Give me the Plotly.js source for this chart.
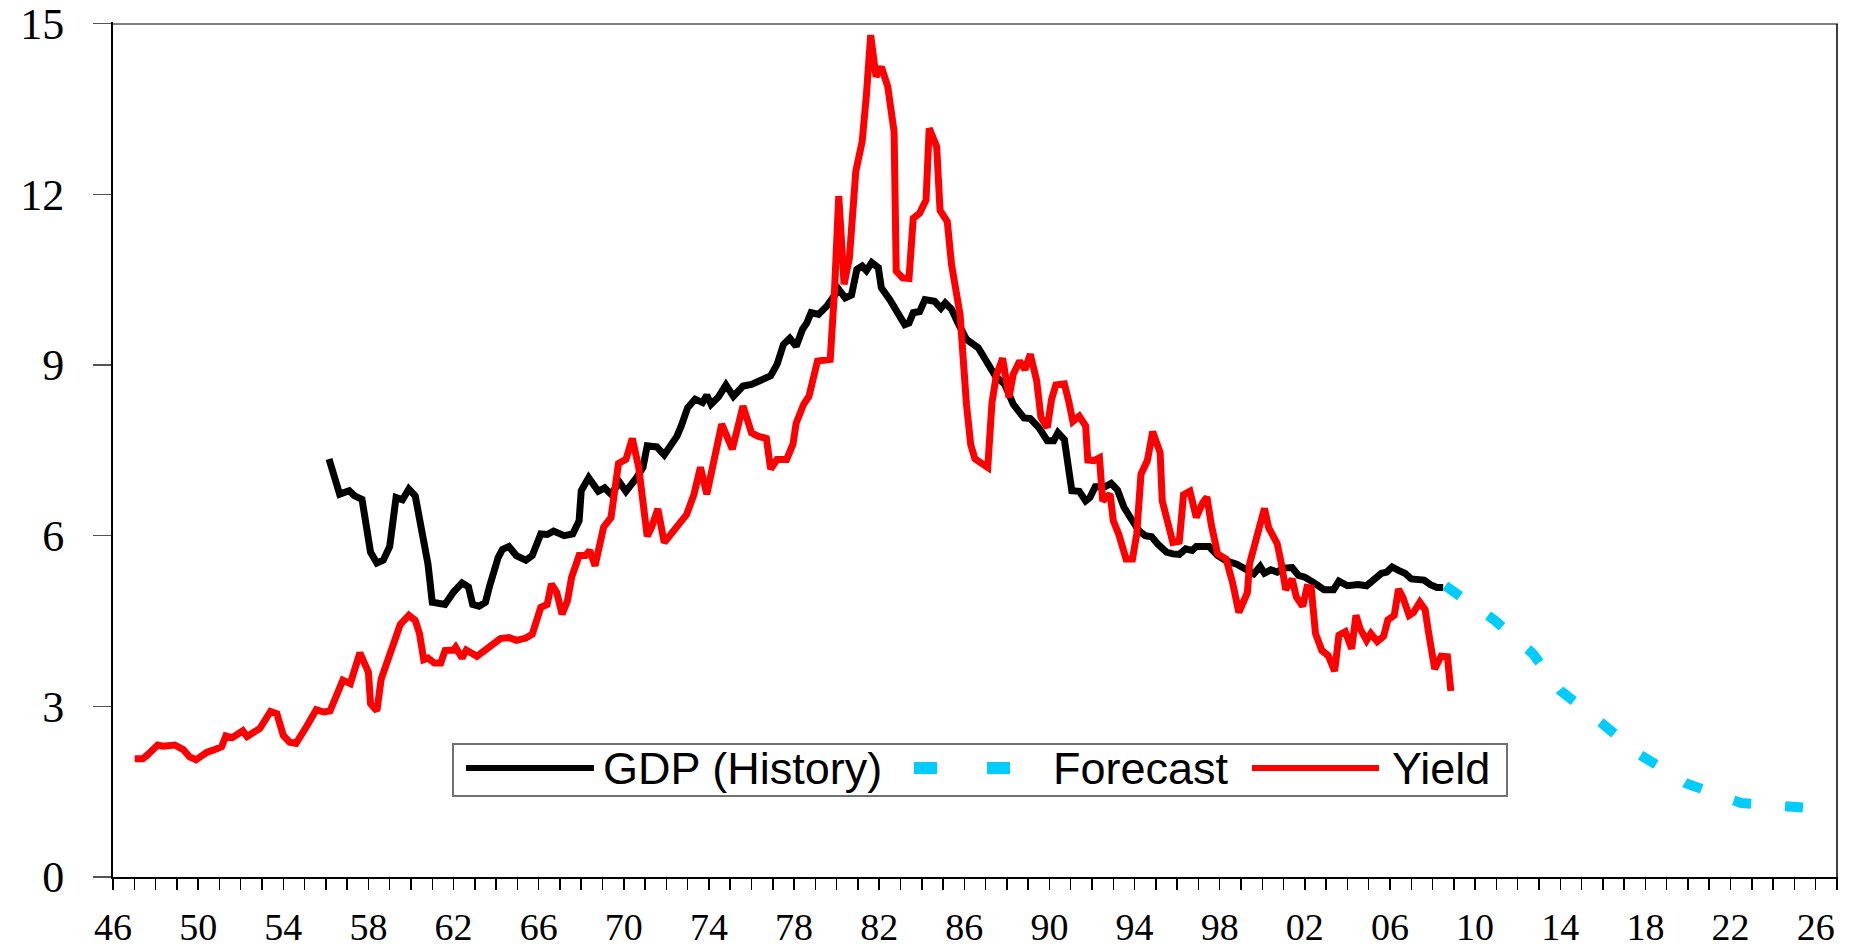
<!DOCTYPE html>
<html>
<head>
<meta charset="utf-8">
<script src="https://cdn.plot.ly/plotly-3.0.1.min.js"></script>
<style>
  html, body { margin: 0; padding: 0; background: #fff; }
  #chart { width: 1864px; height: 947px; }
</style>
</head>
<body>
<div id="chart"></div>
<script>
// values (decimal years)

var gdp_years = [1956.15, 1956.4, 1956.65, 1957.1, 1957.35, 1957.7, 1957.9, 1958.1, 1958.4, 1958.7,
  1959.0, 1959.3, 1959.6, 1959.9, 1960.2, 1960.4, 1960.8, 1961.0, 1961.6, 1962.0,
  1962.4, 1962.7, 1962.9, 1963.2, 1963.5, 1963.7, 1964.1, 1964.3, 1964.6, 1964.95,
  1965.4, 1965.7, 1966.1, 1966.4, 1966.7, 1967.2, 1967.6, 1967.9, 1968.0, 1968.35,
  1968.8, 1969.1, 1969.4, 1969.8, 1970.1, 1970.6, 1970.9, 1971.1, 1971.55, 1971.9,
  1972.3, 1972.5, 1972.7, 1973.0, 1973.35, 1973.7, 1973.9, 1974.1, 1974.45, 1974.8,
  1975.15, 1975.6, 1976.0, 1976.5, 1976.9, 1977.2, 1977.5, 1977.8, 1978.1, 1978.4,
  1978.6, 1978.8, 1979.15, 1979.55, 1979.85, 1980.1, 1980.4, 1980.7, 1980.95, 1981.2,
  1981.4, 1981.65, 1981.96, 1982.1, 1982.5, 1982.8, 1983.2, 1983.4, 1983.6, 1983.9,
  1984.15, 1984.6, 1984.9, 1985.1, 1985.4, 1985.7, 1986.1, 1986.66, 1987.1, 1987.45,
  1987.9, 1988.3, 1988.8, 1989.1, 1989.5, 1989.9, 1990.2, 1990.4, 1990.7, 1990.85,
  1991.05, 1991.4, 1991.7, 1991.9, 1992.15, 1992.6, 1992.9, 1993.2, 1993.5, 1993.8,
  1994.2, 1994.5, 1994.8, 1995.1, 1995.5, 1995.8, 1996.1, 1996.4, 1996.7, 1996.9,
  1997.5, 1997.9, 1998.3, 1998.8, 1999.2, 1999.6, 1999.9, 2000.1, 2000.4, 2000.7,
  2001.0, 2001.4, 2001.7, 2002.0, 2002.4, 2002.9, 2003.35, 2003.6, 2004.0, 2004.5,
  2004.9, 2005.3, 2005.6, 2005.85, 2006.1, 2006.4, 2006.7, 2007.0, 2007.6, 2007.9,
  2008.2, 2008.5];
var gdp_values = [7.35, 7.08, 6.73, 6.79, 6.70, 6.64, 6.14, 5.71, 5.52, 5.57,
  5.81, 6.67, 6.63, 6.82, 6.70, 6.32, 5.50, 4.83, 4.79, 5.01,
  5.17, 5.10, 4.79, 4.76, 4.83, 5.12, 5.62, 5.76, 5.81, 5.65,
  5.57, 5.65, 6.03, 6.02, 6.08, 6.00, 6.03, 6.26, 6.79, 7.02,
  6.78, 6.84, 6.73, 6.94, 6.78, 7.02, 7.20, 7.58, 7.56, 7.42,
  7.64, 7.75, 7.93, 8.25, 8.40, 8.34, 8.47, 8.31, 8.44, 8.65,
  8.45, 8.63, 8.66, 8.75, 8.81, 9.01, 9.36, 9.47, 9.33, 9.63,
  9.74, 9.92, 9.89, 10.04, 10.18, 10.33, 10.18, 10.23, 10.68, 10.74,
  10.66, 10.80, 10.71, 10.36, 10.15, 9.95, 9.71, 9.74, 9.92, 9.94,
  10.15, 10.12, 10.00, 10.09, 9.98, 9.74, 9.45, 9.30, 9.04, 8.81,
  8.66, 8.31, 8.07, 8.06, 7.90, 7.67, 7.67, 7.81, 7.69, 7.26,
  6.79, 6.78, 6.61, 6.67, 6.86, 6.86, 6.92, 6.80, 6.50, 6.32,
  6.09, 6.00, 5.98, 5.85, 5.71, 5.68, 5.67, 5.77, 5.74, 5.81,
  5.81, 5.65, 5.56, 5.50, 5.40, 5.33, 5.46, 5.34, 5.40, 5.36,
  5.43, 5.44, 5.30, 5.27, 5.18, 5.05, 5.05, 5.20, 5.12, 5.14,
  5.12, 5.26, 5.34, 5.36, 5.45, 5.39, 5.34, 5.24, 5.22, 5.14,
  5.09, 5.09];

var forecast_years = [2008.6, 2008.8, 2010.9, 2012.7, 2014.0, 2015.9, 2017.7, 2019.9, 2022.5, 2025.9, 2026.4];
var forecast_values = [5.12, 5.07, 4.52, 3.93, 3.28, 2.72, 2.16, 1.65, 1.30, 1.21, 1.19];

var yield_years = [1947.02, 1947.4, 1947.6, 1948.1, 1948.35, 1948.9, 1949.3, 1949.6, 1949.9, 1950.4,
  1950.7, 1951.1, 1951.3, 1951.6, 1952.1, 1952.3, 1952.9, 1953.1, 1953.4, 1953.7,
  1954.0, 1954.3, 1954.6, 1955.1, 1955.55, 1955.9, 1956.2, 1956.8, 1957.15, 1957.6,
  1958.0, 1958.1, 1958.4, 1958.6, 1959.0, 1959.5, 1959.9, 1960.2, 1960.4, 1960.6,
  1960.8, 1961.1, 1961.4, 1961.6, 1962.0, 1962.1, 1962.4, 1962.6, 1963.1, 1963.7,
  1964.2, 1964.6, 1964.95, 1965.4, 1965.7, 1966.1, 1966.4, 1966.6, 1966.85, 1967.1,
  1967.35, 1967.55, 1967.9, 1968.2, 1968.4, 1968.65, 1969.05, 1969.4, 1969.75, 1970.1,
  1970.4, 1970.7, 1971.1, 1971.3, 1971.6, 1971.9, 1972.25, 1972.65, 1972.95, 1973.3,
  1973.6, 1973.9, 1974.2, 1974.6, 1975.1, 1975.6, 1976.0, 1976.3, 1976.7, 1976.9,
  1977.2, 1977.65, 1977.95, 1978.1, 1978.45, 1978.7, 1979.1, 1979.45, 1979.7, 1979.9,
  1980.1, 1980.35, 1980.6, 1980.9, 1981.2, 1981.4, 1981.6, 1981.85, 1982.1, 1982.4,
  1982.7, 1982.8, 1983.1, 1983.4, 1983.6, 1983.9, 1984.2, 1984.35, 1984.7, 1984.86,
  1985.2, 1985.4, 1985.8, 1986.1, 1986.3, 1986.5, 1986.74, 1987.1, 1987.3, 1987.5,
  1987.8, 1988.1, 1988.3, 1988.6, 1988.85, 1989.1, 1989.4, 1989.6, 1989.9, 1990.1,
  1990.3, 1990.7, 1990.9, 1991.1, 1991.4, 1991.7, 1991.8, 1992.1, 1992.35, 1992.5,
  1992.85, 1993.0, 1993.25, 1993.6, 1993.9, 1994.1, 1994.3, 1994.6, 1994.85, 1995.2,
  1995.3, 1995.5, 1995.8, 1996.1, 1996.3, 1996.6, 1996.9, 1997.2, 1997.4, 1997.6,
  1997.9, 1998.3, 1998.6, 1998.9, 1999.3, 1999.4, 1999.7, 2000.1, 2000.3, 2000.7,
  2000.9, 2001.1, 2001.4, 2001.6, 2001.9, 2002.1, 2002.3, 2002.5, 2002.8, 2003.1,
  2003.4, 2003.6, 2003.9, 2004.2, 2004.4, 2004.6, 2004.9, 2005.1, 2005.4, 2005.7,
  2005.9, 2006.2, 2006.4, 2006.6, 2006.9, 2007.1, 2007.4, 2007.65, 2007.8, 2008.1,
  2008.4, 2008.7, 2008.86];
var yield_values = [2.08, 2.08, 2.14, 2.32, 2.30, 2.32, 2.24, 2.11, 2.06, 2.19,
  2.23, 2.29, 2.48, 2.45, 2.57, 2.47, 2.61, 2.73, 2.91, 2.87,
  2.49, 2.37, 2.35, 2.65, 2.94, 2.90, 2.92, 3.46, 3.40, 3.94,
  3.60, 3.05, 2.92, 3.48, 3.88, 4.44, 4.60, 4.51, 4.28, 3.82,
  3.85, 3.76, 3.76, 3.98, 3.99, 4.04, 3.85, 3.99, 3.88, 4.04,
  4.19, 4.21, 4.16, 4.20, 4.27, 4.74, 4.79, 5.15, 5.00, 4.62,
  4.85, 5.27, 5.65, 5.65, 5.74, 5.47, 6.15, 6.32, 7.27, 7.34,
  7.71, 7.20, 5.99, 6.14, 6.47, 5.88, 6.06, 6.26, 6.37, 6.73,
  7.20, 6.73, 7.31, 7.96, 7.52, 8.28, 7.81, 7.75, 7.71, 7.17,
  7.34, 7.34, 7.61, 7.98, 8.31, 8.45, 9.07, 9.08, 9.10, 10.30,
  11.97, 10.42, 10.88, 12.40, 12.93, 13.75, 14.80, 14.07, 14.24, 13.90,
  13.10, 10.65, 10.53, 10.52, 11.58, 11.67, 11.90, 13.16, 12.84, 11.72,
  11.52, 10.76, 9.89, 8.31, 7.60, 7.35, 7.29, 7.20, 8.34, 8.81,
  9.12, 8.43, 8.84, 9.07, 8.92, 9.19, 8.72, 8.08, 7.90, 8.40,
  8.65, 8.67, 8.37, 8.01, 8.10, 7.93, 7.33, 7.32, 7.37, 6.61,
  6.73, 6.26, 6.03, 5.59, 5.59, 6.03, 7.08, 7.32, 7.83, 7.46,
  6.61, 6.32, 5.88, 5.90, 6.72, 6.78, 6.32, 6.58, 6.68, 6.20,
  5.68, 5.59, 5.18, 4.65, 5.00, 5.50, 5.91, 6.48, 6.14, 5.86,
  5.50, 5.05, 5.24, 4.92, 4.76, 5.09, 5.08, 4.28, 3.98, 3.89,
  3.62, 4.25, 4.31, 4.01, 4.60, 4.36, 4.16, 4.28, 4.14, 4.23,
  4.52, 4.60, 5.06, 4.92, 4.60, 4.65, 4.83, 4.70, 4.33, 3.66,
  3.88, 3.87, 3.27];

var series_names = ['GDP (History)', 'Forecast', 'Yield'];

var label_years = [1946, 1950, 1954, 1958, 1962, 1966, 1970, 1974, 1978, 1982, 1986,
  1990, 1994, 1998, 2002, 2006, 2010, 2014, 2018, 2022, 2026];
var label_text = ['46', '50', '54', '58', '62', '66', '70', '74', '78', '82', '86',
  '90', '94', '98', '02', '06', '10', '14', '18', '22', '26'];
var y_ticks = [0, 3, 6, 9, 12, 15];

// plot box in page pixels
var M = { l: 113, r: 26, t: 22, b: 70 };
var W = 1864, H = 947;
var plotW = W - M.l - M.r;
var plotH = H - M.t - M.b;

function px2x(px) { return (px - M.l) / plotW; }
function px2y(py) { return (H - M.b - py) / plotH; }

function onLoad() {
  // one tick per year, label every fourth
  var all_years = [];
  var all_text = [];
  for (var yr = 1946; yr <= 2027; yr++) {
    all_years.push(yr);
    var k = label_years.indexOf(yr);
    all_text.push(k >= 0 ? label_text[k] : '');
  }

  var data = [{
    x: gdp_years,
    y: gdp_values,
    name: series_names[0],
    mode: 'lines',
    line: { color: '#000000', width: 7 }
  }, {
    x: forecast_years,
    y: forecast_values,
    name: series_names[1],
    mode: 'lines',
    line: { color: '#00CCFF', width: 10, dash: '18px,34px' }
  }, {
    x: yield_years,
    y: yield_values,
    name: series_names[2],
    mode: 'lines',
    line: { color: '#FF0000', width: 7 }
  }];

  var serif = 'Liberation Serif, Times New Roman, serif';
  var sans = 'Liberation Sans, Arial, sans-serif';

  // hand-placed legend (box, samples, labels)
  var legY = 768;
  var shapes = [
    { type: 'line', xref: 'paper', yref: 'paper', x0: 0, x1: 1, y0: px2y(24), y1: px2y(24),
      line: { color: '#808080', width: 2 } },
    { type: 'line', xref: 'paper', yref: 'paper', x0: px2x(1837), x1: px2x(1837), y0: 0, y1: px2y(24),
      line: { color: '#000', width: 1.5 } },
    { type: 'rect', xref: 'paper', yref: 'paper', x0: px2x(453), x1: px2x(1507), y0: px2y(796), y1: px2y(744),
      line: { color: '#707070', width: 2 }, fillcolor: '#ffffff', layer: 'above' },
    { type: 'line', xref: 'paper', yref: 'paper', x0: px2x(466), x1: px2x(594), y0: px2y(legY), y1: px2y(legY),
      line: { color: '#000000', width: 6 }, layer: 'above' },
    { type: 'rect', xref: 'paper', yref: 'paper', x0: px2x(914), x1: px2x(937), y0: px2y(774), y1: px2y(762),
      line: { width: 0 }, fillcolor: '#00CCFF', layer: 'above' },
    { type: 'rect', xref: 'paper', yref: 'paper', x0: px2x(987), x1: px2x(1010), y0: px2y(774), y1: px2y(762),
      line: { width: 0 }, fillcolor: '#00CCFF', layer: 'above' },
    { type: 'line', xref: 'paper', yref: 'paper', x0: px2x(1252), x1: px2x(1379), y0: px2y(legY), y1: px2y(legY),
      line: { color: '#FF0000', width: 6 }, layer: 'above' }
  ];

  var legText = [[602, series_names[0]], [1052, series_names[1]], [1391, series_names[2]]];
  var annotations = legText.map(function (t) {
    return {
      xref: 'paper', yref: 'paper',
      x: px2x(t[0]), y: px2y(legY),
      xanchor: 'left', yanchor: 'middle',
      text: t[1], showarrow: false,
      borderpad: 0,
      font: { family: sans, size: 45, color: '#000' }
    };
  });

  var layout = {
    width: W,
    height: H,
    margin: M,
    paper_bgcolor: '#ffffff',
    plot_bgcolor: '#ffffff',
    showlegend: false,
    xaxis: {
      range: [1946, 2027.05],
      tickmode: 'array',
      tickvals: all_years,
      ticktext: all_text,
      ticks: 'outside',
      ticklen: 11,
      tickwidth: 1.5,
      tickcolor: '#000',
      showline: true,
      linecolor: '#000',
      linewidth: 2,
      showgrid: false,
      zeroline: false,
      tickfont: { family: serif, size: 38, color: '#000' },
      ticklabelstandoff: 4,
      ticklabeloverflow: 'allow'
    },
    xaxis2: {
      overlaying: 'x',
      anchor: 'y',
      range: [1946, 2027.05],
      tickmode: 'array',
      tickvals: all_years,
      ticks: 'inside',
      ticklen: 11,
      tickwidth: 1.5,
      tickcolor: '#000',
      showticklabels: false,
      showline: false,
      showgrid: false,
      zeroline: false
    },
    yaxis: {
      range: [0, 15.03],
      tickmode: 'array',
      tickvals: y_ticks,
      ticks: 'outside',
      ticklen: 18,
      tickwidth: 1.5,
      tickcolor: '#555',
      showline: true,
      linecolor: '#000',
      linewidth: 2,
      showgrid: false,
      zeroline: false,
      tickfont: { family: serif, size: 44, color: '#000' },
      ticklabelstandoff: 20,
      ticklabeloverflow: 'allow'
    },
    yaxis2: {
      overlaying: 'y',
      anchor: 'x',
      range: [0, 15.03],
      tickmode: 'array',
      tickvals: y_ticks,
      ticks: 'inside',
      ticklen: 18,
      tickwidth: 1.5,
      tickcolor: '#555',
      showticklabels: false,
      showline: false,
      showgrid: false,
      zeroline: false
    },
    shapes: shapes,
    annotations: annotations
  };

  Plotly.newPlot('chart', data, layout, { displayModeBar: false, staticPlot: true });
}

onLoad();
</script>
</body>
</html>
